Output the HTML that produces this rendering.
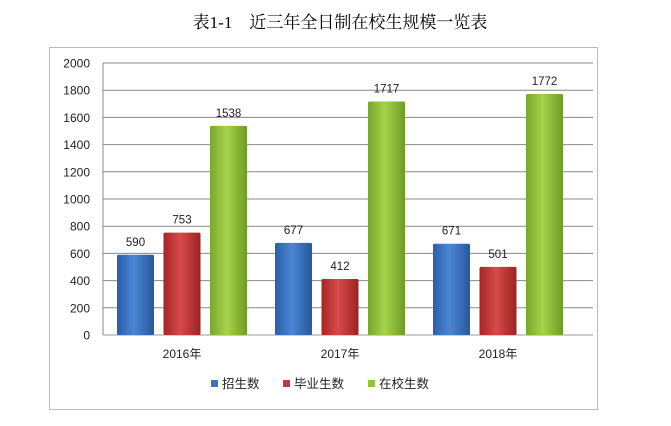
<!DOCTYPE html>
<html><head><meta charset="utf-8"><style>
body{margin:0;width:671px;height:426px;background:#fff;overflow:hidden}
svg{display:block}
text{font-family:"Liberation Sans","Noto Sans CJK SC",sans-serif}
</style></head><body>
<svg width="671" height="426">
<defs>
<linearGradient id="gb" x1="0" x2="1"><stop offset="0" stop-color="#2a5ea8"/><stop offset="0.45" stop-color="#4a86d4"/><stop offset="1" stop-color="#28589e"/></linearGradient>
<linearGradient id="gr" x1="0" x2="1"><stop offset="0" stop-color="#a82424"/><stop offset="0.45" stop-color="#d64a4a"/><stop offset="1" stop-color="#9c2222"/></linearGradient>
<linearGradient id="gg" x1="0" x2="1"><stop offset="0" stop-color="#78a82a"/><stop offset="0.45" stop-color="#a6d24c"/><stop offset="1" stop-color="#6e9c24"/></linearGradient>
</defs>
<text x="340" y="28" text-anchor="middle" font-size="17" style="font-family:'Liberation Serif','Noto Serif CJK SC',serif">表1-1　近三年全日制在校生规模一览表</text>
<rect x="49.5" y="47.5" width="548" height="362" fill="#fff" stroke="#bbb"/>
<g id="grid"></g><g id="bars"></g><g id="legend"></g>
</svg>
<script>
const categories=["2016年","2017年","2018年"];
const seriesNames=["招生数","毕业生数","在校生数"];
const enroll=[590,677,671];
const graduates=[753,412,501];
const students=[1538,1717,1772];
const ticks=[0,200,400,600,800,1000,1200,1400,1600,1800,2000];
const NS="http://www.w3.org/2000/svg";
const L=103,R=593,T=63,B=335,maxV=2000;
const y=v=>B-(v/maxV)*(B-T);
const gw=158, firstCenter=182;
const fills=["url(#gb)","url(#gr)","url(#gg)"];
const legendCol=["#3a74c4","#c43a3a","#92c23e"];
function mk(tag,a,p){const e=document.createElementNS(NS,tag);for(const k in a)e.setAttribute(k,a[k]);p.appendChild(e);return e;}
const grid=document.getElementById('grid');
ticks.forEach(t=>{
 const l=mk('line',{x1:L,x2:R,y1:y(t),y2:y(t),stroke:t===0?'#999':'#888','stroke-width':1},grid);
 
 
 const tx=mk('text',{x:90,y:y(t)+4.5,'text-anchor':'end','font-size':12,fill:'#222'},grid);
 tx.textContent=t;
 
 
});
mk('line',{x1:L,x2:L,y1:T,y2:B,stroke:'#888'},grid);
const bars=document.getElementById('bars');
const series=[enroll,graduates,students];
const bw=37,gap=9.5;
categories.forEach((c,i)=>{
 const cx=firstCenter+gw*i;
 series.forEach((s,j)=>{
  const x=cx+(j-1)*(bw+gap)-bw/2;
  const r=mk('rect',{x:x,y:y(s[i]),width:bw,height:B-y(s[i]),fill:fills[j],rx:1.5},bars);
  
  
  const lb=mk('text',{x:x+bw/2,y:y(s[i])-9,'text-anchor':'middle','font-size':11.5,fill:'#222'},bars);
  lb.textContent=s[i];
  
  
 });
 const ct=mk('text',{x:cx,y:358,'text-anchor':'middle','font-size':12,fill:'#222'},bars);
 ct.textContent=c;
 
 
});
const lg=document.getElementById('legend');
const lx=[211,283,368];
seriesNames.forEach((n,j)=>{
 const r=mk('rect',{x:lx[j],y:380,width:7,height:7,fill:legendCol[j]},lg);
 
 
 const t=mk('text',{x:lx[j]+11,y:388,'font-size':12.5,fill:'#222'},lg);
 t.textContent=n;
 
 
});
</script>
</body></html>
